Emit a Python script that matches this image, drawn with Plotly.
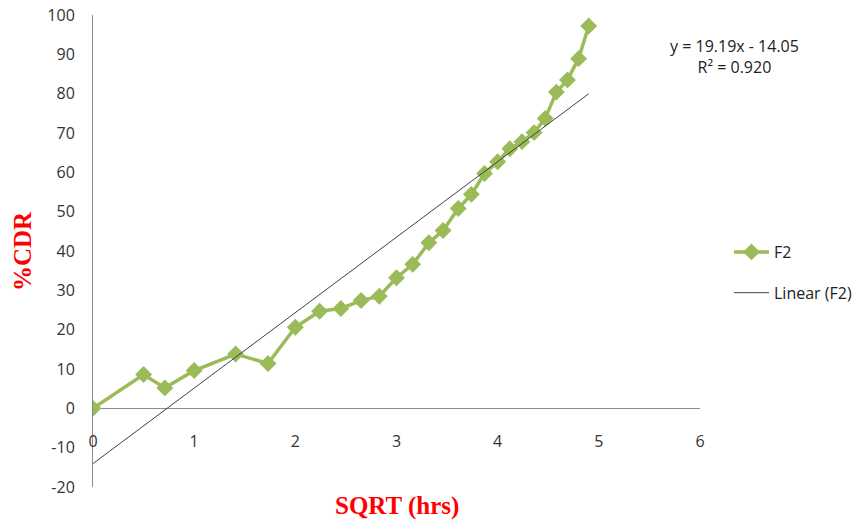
import plotly.graph_objects as go

# Data
sqrt_hrs = [0, 0.5, 0.71, 1.0, 1.41, 1.73, 2.0, 2.24, 2.45, 2.65, 2.83, 3.0, 3.16,
            3.32, 3.46, 3.61, 3.74, 3.87, 4.0, 4.12, 4.24, 4.36, 4.47, 4.58, 4.69, 4.80, 4.90]
cdr_f2 = [0, 8.6, 5.2, 9.6, 13.8, 11.4, 20.6, 24.7, 25.4, 27.4, 28.5, 33.2, 36.6,
          42.1, 45.2, 50.8, 54.4, 59.7, 62.7, 66.0, 67.8, 70.1, 73.7, 80.4, 83.5, 88.9, 97.2]
slope = 19.19
intercept = -14.05
r_squared = 0.920
x_ticks = [0, 1, 2, 3, 4, 5, 6]
y_ticks = [-20, -10, 0, 10, 20, 30, 40, 50, 60, 70, 80, 90, 100]

trend_x = [0, max(sqrt_hrs)]
trend_y = [slope * v + intercept for v in trend_x]

GREEN = "#9BBB59"
TICKFONT = dict(family="Open Sans", size=16, color="#333333")
TITLEFONT = dict(family="Liberation Serif", size=25, color="#FF0000")

# plot area in pixels
L, R, T, B = 93, 700, 15, 487
PW, PH = R - L, B - T


def px_x(p):
    return (p - L) / PW


def px_y(p):
    return (B - p) / PH


fig = go.Figure()
fig.add_trace(go.Scatter(
    x=sqrt_hrs, y=cdr_f2, mode="lines+markers", name="F2",
    line=dict(color=GREEN, width=3.5),
    marker=dict(symbol="diamond", size=13, color=GREEN),
    legendgroup="a",
))
fig.add_trace(go.Scatter(
    x=trend_x, y=trend_y, mode="lines", name="Linear (F2)",
    line=dict(color="#404040", width=1),
    legendgroup="b",
))

fig.update_layout(
    width=856, height=525,
    margin=dict(l=L, r=856 - R, t=T, b=525 - B, autoexpand=False),
    plot_bgcolor="white", paper_bgcolor="white",
    showlegend=True,
    legend=dict(x=px_x(729), y=px_y(235), xanchor="left", yanchor="top",
                font=dict(family="Open Sans", size=16, color="#222222"),
                tracegroupgap=17, itemwidth=35, bgcolor="rgba(0,0,0,0)"),
    xaxis=dict(range=[0, 6], tickvals=x_ticks, ticktext=[str(v) for v in x_ticks],
               showgrid=False, zeroline=False, automargin=False,
               showline=False, ticks="", tickfont=TICKFONT,
               anchor="free", position=px_y(430)),
    yaxis=dict(range=[-20, 100], tickvals=y_ticks, ticktext=[str(v) for v in y_ticks],
               showgrid=False, automargin=False,
               zeroline=True, zerolinecolor="#8C8C8C", zerolinewidth=1,
               showline=True, linecolor="#8C8C8C", linewidth=1,
               ticks="", tickfont=TICKFONT, ticklabelstandoff=14),
    annotations=[
        dict(x=px_x(734), y=px_y(57), xref="paper", yref="paper", showarrow=False,
             xanchor="center", yanchor="middle",
             text=f"y = {slope}x - {abs(intercept):.2f}<br>R² = {r_squared:.3f}",
             font=dict(family="Open Sans", size=16, color="#222222"), align="center"),
        dict(x=px_x(397), y=px_y(506), xref="paper", yref="paper", showarrow=False,
             xanchor="center", yanchor="middle",
             text="<b>SQRT (hrs)</b>", font=TITLEFONT),
        dict(x=px_x(22), y=px_y(251), xref="paper", yref="paper", showarrow=False,
             xanchor="center", yanchor="middle",
             text="<b>%CDR</b>", font=TITLEFONT, textangle=-90),
    ],
)

fig.write_html("out.html")
